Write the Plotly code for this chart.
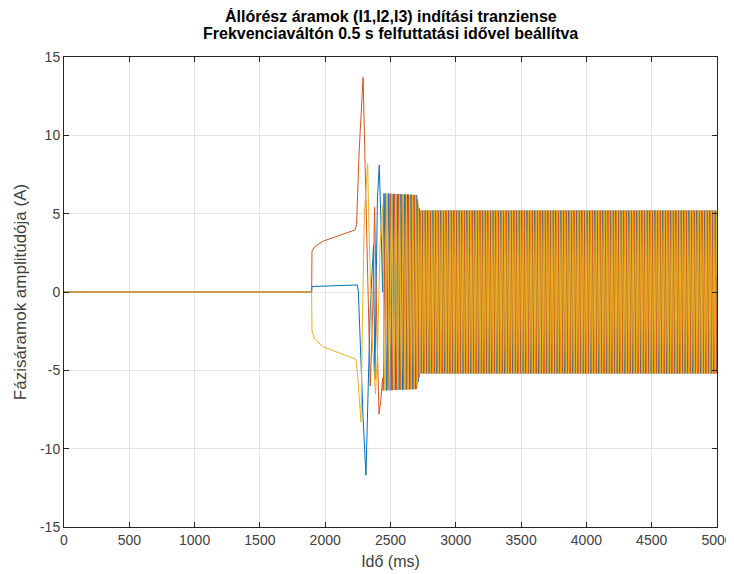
import numpy as np
import plotly.graph_objects as go

# ---- data ----
# DC / start-up transient keypoints (time in ms, current in A)
I1_T = [0, 1896, 1899, 2050, 2150, 2246, 2254, 2265, 2290, 2312, 2325, 2345, 2370, 2380, 2400, 2414, 2425, 2440]
I1_V = [0, 0, 0.35, 0.4, 0.42, 0.45, 0.0, -2.5, -8.0, -11.7, -7.0, -1.0, 3.0, -5.6, 6.0, 8.1, 5.0, 0.0]

I2_T = [0, 1896, 1899, 1920, 1985, 2228, 2240, 2260, 2290, 2300, 2320, 2345, 2365, 2378, 2395, 2412, 2425, 2440]
I2_V = [0, 0, 2.6, 2.9, 3.25, 3.96, 4.3, 9.0, 13.7, 10.0, 2.0, -6.0, -1.0, 5.4, -2.0, -7.8, -7.0, -5.5]

I3_T = [0, 1896, 1899, 1920, 1985, 2236, 2250, 2274, 2285, 2300, 2325, 2335, 2360, 2385, 2400, 2420, 2440]
I3_V = [0, 0, -2.5, -3.0, -3.5, -4.3, -5.5, -8.3, -2.0, 5.0, 8.2, 4.0, -3.0, -6.5, -4.0, 3.0, 5.5]

# oscillating part (after the transient): frequency ramp and amplitude envelope
OSC_START = 2440
OSC_END = 5000
FREQ_T = [2440, 2750, 5000]      # ms
FREQ_HZ = [25, 50, 50]           # Hz
AMP_T = [2440, 2700, 2725, 5000]  # ms
AMP_A = [6.3, 6.2, 5.2, 5.2]     # A

X_TICKS = [0, 500, 1000, 1500, 2000, 2500, 3000, 3500, 4000, 4500, 5000]
Y_TICKS = [-15, -10, -5, 0, 5, 10, 15]

TITLE_1 = "Állórész áramok (I1,I2,I3) indítási tranziense"
TITLE_2 = "Frekvenciaváltón 0.5 s felfuttatási idővel beállítva"
X_LABEL = "Idő (ms)"
Y_LABEL = "Fázisáramok amplitúdója (A)"

COLORS = ["#0072BD", "#D95319", "#EDB120"]
NAMES = ["I1", "I2", "I3"]

# ---- build the oscillating part ----
t_osc = np.arange(OSC_START, OSC_END + 0.25, 0.5)
f = np.interp(t_osc, FREQ_T, FREQ_HZ)
amp = np.interp(t_osc, AMP_T, AMP_A)
theta = 2 * np.pi * np.concatenate([[0], np.cumsum(f[1:] * np.diff(t_osc) / 1000.0)])
shifts = [0.0, -2 * np.pi / 3, 2 * np.pi / 3]

fig = go.Figure()
for (tt, vv), sh, col, nm in zip([(I1_T, I1_V), (I2_T, I2_V), (I3_T, I3_V)], shifts, COLORS, NAMES):
    osc = amp * np.sin(theta + sh)
    x = np.concatenate([tt, t_osc[1:]])
    y = np.concatenate([vv, osc[1:]])
    fig.add_trace(go.Scatter(x=x, y=y, mode="lines", name=nm,
                             line=dict(color=col, width=1), showlegend=False,
                             hoverinfo="skip"))

FONT = "Liberation Sans, Arial, sans-serif"
axis_common = dict(
    showline=True, linecolor="#262626", linewidth=1, mirror="ticks",
    ticks="inside", ticklen=5, tickcolor="#262626",
    showgrid=True, gridcolor="#e3e3e3", gridwidth=1,
    zeroline=False, automargin=False,
    tickfont=dict(family=FONT, size=14, color="#404040"),
)

# page body adds an 8px offset, so the figure is 726x566 with margins shifted accordingly
fig.update_layout(
    width=726, height=566,
    paper_bgcolor="white", plot_bgcolor="white",
    margin=dict(l=56, r=17, t=49, b=47, autoexpand=False),
    xaxis=dict(range=[0, 5000], tickvals=X_TICKS, ticktext=[str(v) for v in X_TICKS],
               title=dict(text=X_LABEL, standoff=9,
                          font=dict(family=FONT, size=16, color="#404040")),
               **axis_common),
    yaxis=dict(range=[-15, 15], tickvals=Y_TICKS, ticktext=[str(v) for v in Y_TICKS],
               title=dict(text=Y_LABEL, standoff=9,
                          font=dict(family=FONT, size=17, color="#404040")),
               **axis_common),
)

# two-line bold title placed above the plot area
fig.add_annotation(text="<b>" + TITLE_1 + "</b>", xref="paper", yref="paper",
                   x=0.5, y=1, yshift=41, xanchor="center", yanchor="middle", showarrow=False,
                   font=dict(family=FONT, size=16, color="black"))
fig.add_annotation(text="<b>" + TITLE_2 + "</b>", xref="paper", yref="paper",
                   x=0.5, y=1, yshift=24, xanchor="center", yanchor="middle", showarrow=False,
                   font=dict(family=FONT, size=16, color="black"))

fig.write_html("out.html")
